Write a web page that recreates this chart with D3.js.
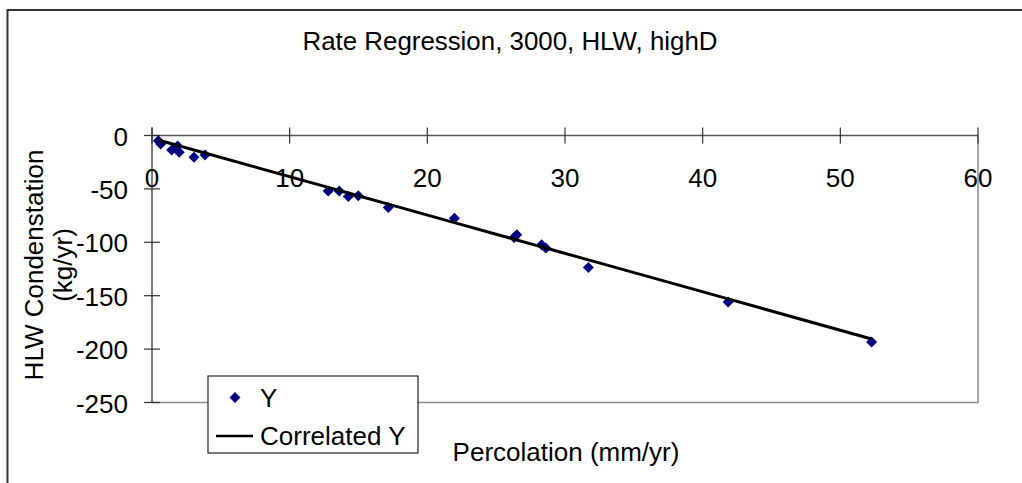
<!DOCTYPE html>
<html>
<head>
<meta charset="utf-8">
<script src="https://cdn.jsdelivr.net/npm/d3@7"></script>
<style>
  html, body { margin: 0; padding: 0; background: #fff; }
  svg { display: block; }
  text { font-family: "Liberation Sans", Arial, sans-serif; fill: #000; }
</style>
</head>
<body>
<svg id="chart" width="1022" height="483"></svg>
<script>
// ---- data ----
const title = "Rate Regression, 3000, HLW, highD";
const xTitle = "Percolation (mm/yr)";
const yTitleLines = ["HLW Condenstation", "(kg/yr)"];
const percolation = [0.46, 0.63, 1.43, 1.86, 1.98, 3.05, 3.85, 12.8, 13.6, 14.26, 14.98, 17.16, 21.97, 26.3, 26.5, 28.3, 28.6, 31.7, 41.85, 52.27];
const yValues = [-4.9, -8.0, -13.6, -9.8, -15.7, -20.4, -18.2, -51.9, -51.9, -57.2, -56.5, -67.5, -77.4, -95.5, -93.0, -102.3, -105.4, -123.5, -155.9, -193.3];
const correlatedY = [-4.3, -4.9, -7.7, -9.3, -9.7, -13.6, -16.4, -48.6, -51.5, -53.9, -56.4, -64.3, -81.6, -97.1, -97.8, -104.3, -105.4, -116.5, -153.0, -190.5];
const xTicks = [0, 10, 20, 30, 40, 50, 60];
const yTicks = [0, -50, -100, -150, -200, -250];
const legendLabels = ["Y", "Correlated Y"];

// ---- layout ----
const svg = d3.select("#chart");
const FS = 26;
const x = d3.scaleLinear().domain([0, 60]).range([152, 978]);
const y = d3.scaleLinear().domain([-250, 0]).range([402.5, 135.5]);

// outer chart border
svg.append("rect").attr("x", 7.5).attr("y", 10).attr("width", 1030).attr("height", 490)
  .attr("fill", "#fff").attr("stroke", "#333").attr("stroke-width", 2);

// plot area border (right & bottom)
svg.append("path")
  .attr("d", `M${x(60)},${y(0)} V${y(-250)} H${x(0)}`)
  .attr("fill", "none").attr("stroke", "#8c8c8c").attr("stroke-width", 1.5);

// title
svg.append("text").attr("x", 510).attr("y", 50).attr("text-anchor", "middle")
  .attr("font-size", FS).attr("textLength", 415).attr("lengthAdjust", "spacingAndGlyphs").text(title);

// x axis (at y = 0)
svg.append("line").attr("x1", x(0)).attr("x2", x(60)).attr("y1", y(0)).attr("y2", y(0))
  .attr("stroke", "#555").attr("stroke-width", 1.3);
svg.selectAll(".xt").data(xTicks).enter().append("line")
  .attr("x1", d => x(d)).attr("x2", d => x(d))
  .attr("y1", y(0) - 8).attr("y2", y(0) + 8)
  .attr("stroke", "#333").attr("stroke-width", 1.2);
svg.selectAll(".xl").data(xTicks).enter().append("text")
  .attr("x", d => x(d)).attr("y", y(0) + 51)
  .attr("text-anchor", "middle").attr("font-size", FS).text(d => d);

// y axis
svg.append("line").attr("x1", x(0)).attr("x2", x(0)).attr("y1", y(0) - 8).attr("y2", y(-250))
  .attr("stroke", "#333").attr("stroke-width", 1.3);
svg.selectAll(".yt").data(yTicks).enter().append("line")
  .attr("x1", x(0) - 8).attr("x2", x(0) + 8)
  .attr("y1", d => y(d)).attr("y2", d => y(d))
  .attr("stroke", "#333").attr("stroke-width", 1.2);
svg.selectAll(".yl").data(yTicks).enter().append("text")
  .attr("x", 128).attr("y", d => y(d) + 10)
  .attr("text-anchor", "end").attr("font-size", FS).text(d => d);

// axis titles
svg.append("text").attr("x", 566).attr("y", 461).attr("text-anchor", "middle")
  .attr("font-size", FS).text(xTitle);
yTitleLines.forEach((t, i) => {
  svg.append("text").attr("transform", `translate(${43 + i * 29},265) rotate(-90)`)
    .attr("text-anchor", "middle").attr("font-size", FS).text(t);
});

// data
const pts = percolation.map((p, i) => ({ p, v: yValues[i], c: correlatedY[i] }));
const diamond = "M0,-5.5L5.5,0L0,5.5L-5.5,0Z";
svg.selectAll(".pt").data(pts).enter().append("path")
  .attr("d", diamond)
  .attr("transform", d => `translate(${x(d.p)},${y(d.v)})`)
  .attr("fill", "#000080");

const line = d3.line().x(d => x(d.p)).y(d => y(d.c));
svg.append("path").datum(pts).attr("d", line)
  .attr("fill", "none").attr("stroke", "#000").attr("stroke-width", 3);

// legend
const lg = svg.append("g");
lg.append("rect").attr("x", 208).attr("y", 376).attr("width", 210).attr("height", 77)
  .attr("fill", "#fff").attr("stroke", "#222").attr("stroke-width", 1.2);
lg.append("path").attr("d", diamond).attr("transform", "translate(235,397.5)").attr("fill", "#000080");
lg.append("text").attr("x", 260).attr("y", 406.5).attr("font-size", FS).text(legendLabels[0]);
lg.append("line").attr("x1", 216).attr("x2", 253).attr("y1", 436).attr("y2", 436)
  .attr("stroke", "#000").attr("stroke-width", 2.5);
lg.append("text").attr("x", 260).attr("y", 445).attr("font-size", FS).text(legendLabels[1]);
</script>
</body>
</html>
